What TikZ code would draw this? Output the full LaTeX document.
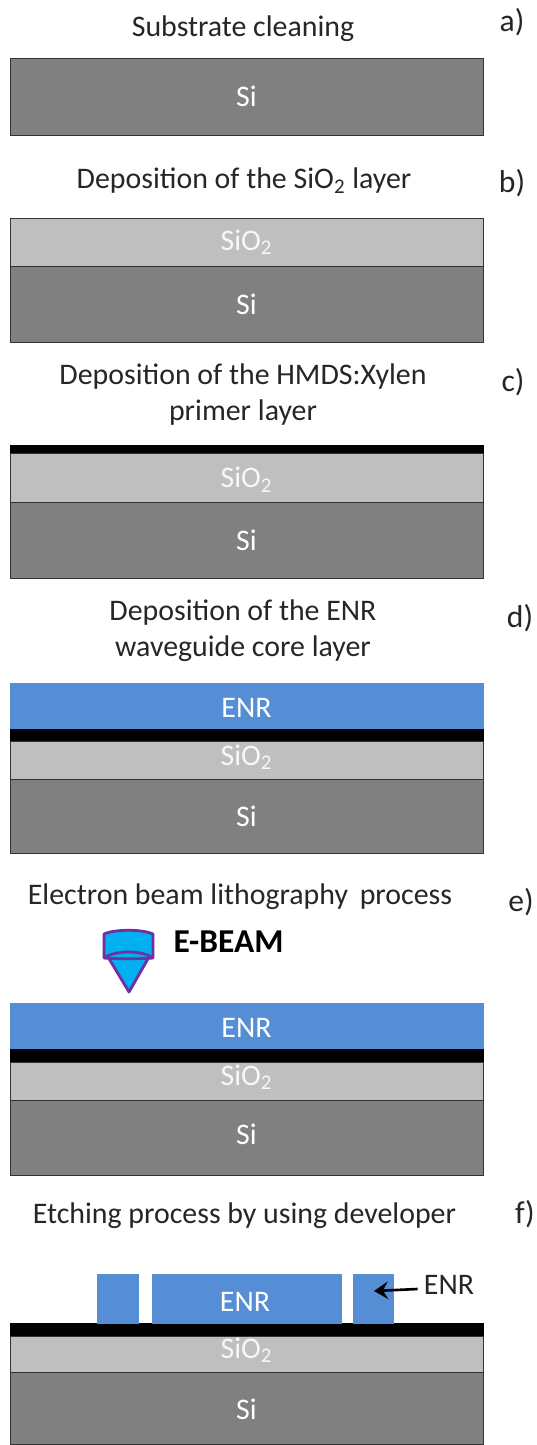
\documentclass[tikz,border=0pt]{standalone}
\usepackage{fontspec}
\setmainfont{Carlito}
\usetikzlibrary{arrows.meta, positioning}

\begin{document}
\begin{tikzpicture}[
        x=0.02cm, y=-0.02cm,
        every node/.style={font=\fontsize{17}{20.5}\selectfont, text=black!85},
        layer/.style={rectangle, draw=black!80, line width=0.5pt, inner sep=0pt, outer sep=0pt, minimum width=9.46cm, text=white},
        si/.style={layer, fill=black!50},
        oxide/.style={layer, fill=black!25, text=black!3},
        primer/.style={layer, fill=black, draw=black},
        enr/.style={layer, fill=enrblue, draw=enrblue, text height=0.46cm},
        title/.style={align=center},
        tag/.style={font=\fontsize{18}{20}\selectfont},
        arrow/.style={-{Stealth[length=8pt, width=10pt, inset=3pt]}, line width=1.5pt, black},
        gun/.style={draw=gunpurple, fill=gunblue, line width=1.6pt, line join=round}
    ]
        \definecolor{enrblue}{HTML}{558ED5}
        \definecolor{gunblue}{HTML}{00B0F0}
        \definecolor{gunpurple}{HTML}{7030A0}
        \useasboundingbox (0,0) rectangle (537,1445);

        % a) cleaning
        \node[title] (titlea) at (243,29) {Substrate cleaning};
        \node[tag] (taga) at (512,22) {a)};
        \node[si, minimum height=1.54cm, anchor=north] (sia) at (246.5,58) {Si};

        % b) oxide
        \node[title] (titleb) at (244,181) {Deposition of the SiO\textsubscript{2} layer};
        \node[tag] (tagb) at (512,183) {b)};
        \node[oxide, minimum height=0.96cm, anchor=north] (oxb) at (246.5,218) {SiO\textsubscript{2}};
        \node[si, minimum height=1.52cm, below=0pt of oxb] (sib) {Si};

        % c) primer
        \node[title] (titlec) at (243,395) {Deposition of the HMDS:Xylen\\primer layer};
        \node[tag] (tagc) at (513,382) {c)};
        \node[primer, minimum height=0.16cm, anchor=north] (blackc) at (246.5,445) {};
        \node[oxide, minimum height=0.98cm, text height=0.5cm, below=0pt of blackc] (oxc) {SiO\textsubscript{2}};
        \node[si, minimum height=1.52cm, below=0pt of oxc] (sic) {Si};

        % d) core layer
        \node[title] (titled) at (243,631) {Deposition of the ENR\\waveguide core layer};
        \node[tag] (tagd) at (520,618) {d)};
        \node[enr, minimum height=0.92cm, anchor=north] (enrd) at (246.5,683) {ENR};
        \node[primer, minimum height=0.24cm, below=0pt of enrd] (blackd) {};
        \node[oxide, minimum height=0.76cm, below=0pt of blackd] (oxd) {};
        \node[si, minimum height=1.48cm, below=0pt of oxd] (sid) {Si};
        \node[text=black!3] (oxtextd) at (246.5,757) {SiO\textsubscript{2}};

        % e) lithography
        \node[title] (titlee) at (240,897) {Electron beam lithography\, process};
        \node[tag] (tage) at (521,902) {e)};
        \node[font=\fontsize{19}{22}\selectfont\bfseries, text=black] (ebeam) at (228.5,942) {E-BEAM};
        \draw[gun] (129,992) -- (108,957) -- (149,957) -- cycle;
        \draw[gun] (104,934) .. controls (115,929) and (142,929) .. (153,934) -- (153,958)
            .. controls (142,959) and (115,959) .. (104,958) -- cycle;
        \draw[gun, fill=none] (104,958) .. controls (115,950) and (142,950) .. (153,958);
        \node[enr, minimum height=0.92cm, anchor=north] (enre) at (246.5,1003) {ENR};
        \node[primer, minimum height=0.26cm, below=0pt of enre] (blacke) {};
        \node[oxide, minimum height=0.76cm, below=0pt of blacke] (oxe) {};
        \node[si, minimum height=1.5cm, text depth=0.12cm, below=0pt of oxe] (sie) {Si};
        \node[text=black!3] (oxtexte) at (246.5,1077) {SiO\textsubscript{2}};

        % f) etching
        \node[title] (titlef) at (244.5,1216) {Etching process by using developer};
        \node[tag] (tagf) at (525,1214) {f)};
        \node[primer, minimum height=0.26cm, anchor=north] (blackf) at (246.5,1323) {};
        \node[oxide, minimum height=0.72cm, below=0pt of blackf] (oxf) {};
        \node[si, minimum height=1.44cm, text height=0.46cm, below=0pt of oxf] (sif) {Si};
        \node[text=black!3] (oxtextf) at (246.5,1350) {SiO\textsubscript{2}};
        \node[enr, minimum width=0.82cm, minimum height=0.98cm, anchor=south] (enrleft) at (118,1323) {};
        \node[enr, minimum width=3.78cm, minimum height=0.98cm, anchor=south] (enrmid) at (246.5,1323) {};
        \node[enr, minimum width=0.8cm, minimum height=0.98cm, anchor=south] (enrright) at (373,1323) {};
        \node[text=white] (enrtext) at (245,1302) {ENR};
        \node[inner sep=0pt] (enrlabel) at (449,1285) {ENR};
        \draw[arrow] ([xshift=-0.12cm, yshift=-0.08cm]enrlabel.west) -- ([xshift=0.02cm, yshift=0.15cm]enrright.center);

    \end{tikzpicture}
\end{document}
